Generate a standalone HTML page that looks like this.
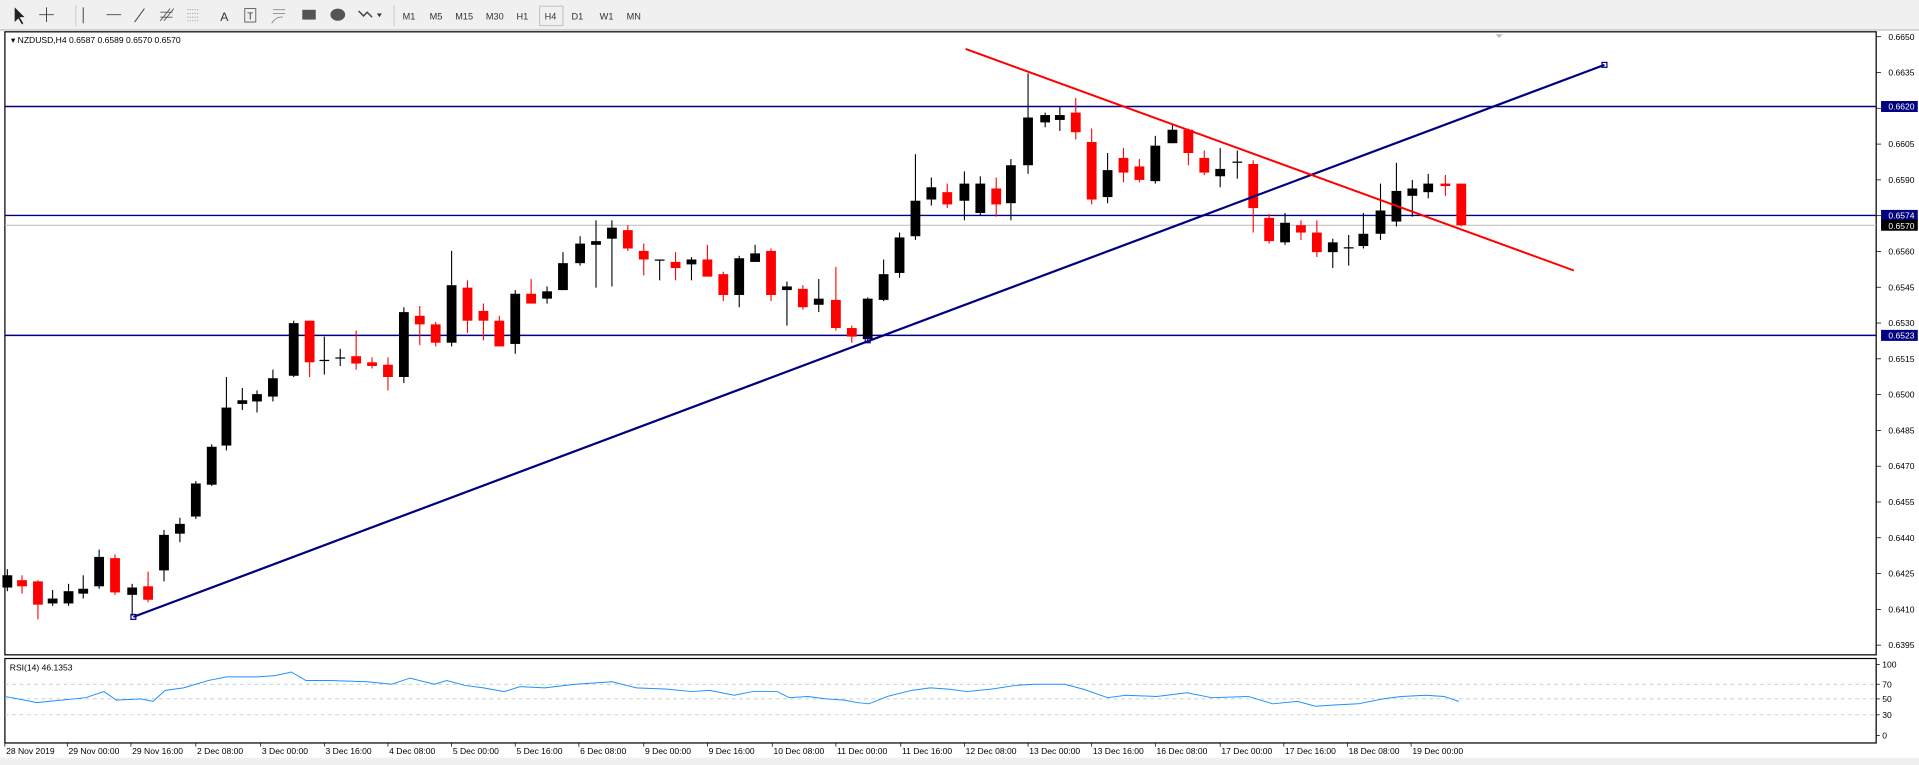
<!DOCTYPE html>
<html><head><meta charset="utf-8"><style>
html,body{margin:0;padding:0;background:#fff;width:1919px;height:765px;overflow:hidden}
svg{display:block}
text{font-family:"Liberation Sans",sans-serif}
</style></head><body>
<svg id="s" width="1919" height="765" viewBox="0 0 1568 625" preserveAspectRatio="none" xmlns="http://www.w3.org/2000/svg">
<rect x="0" y="0" width="1568" height="625" fill="#fff"/>
<rect x="0" y="0" width="1568" height="25" fill="#f0f0f0"/>
<line x1="0" y1="24.5" x2="1568" y2="24.5" stroke="#a0a0a0" stroke-width="0.6"/>
<g font-size="7.5" fill="#333">
<text x="329" y="16">M1</text><text x="351" y="16">M5</text><text x="372" y="16">M15</text><text x="397" y="16">M30</text><text x="422" y="16">H1</text><text x="445" y="16">H4</text><text x="467" y="16">D1</text><text x="490" y="16">W1</text><text x="512" y="16">MN</text>
<text x="180" y="17" font-size="10">A</text>
</g>
<rect x="441" y="5" width="19" height="16" fill="none" stroke="#b0b0b0" stroke-width="0.6"/>
<line x1="322" y1="4" x2="322" y2="21" stroke="#bbb" stroke-width="0.6"/>
<line x1="62" y1="4" x2="62" y2="21" stroke="#bbb" stroke-width="0.6"/>
<path d="M12 6 L12 18 L15 15 L18 20 L19 19 L16 14 L20 14 Z" fill="#222"/>
<path d="M38 6v12M32 12h12" stroke="#444" stroke-width="0.8"/>
<path d="M68 6v13M87 12h12M110 18l8-11" stroke="#444" stroke-width="0.8"/>
<path d="M131 17l8-10M134 17l8-10M131 10h10M131 14h10" stroke="#555" stroke-width="0.7"/>
<path d="M153 8h10M153 11h10M153 14h10M153 17h10" stroke="#888" stroke-width="0.6" stroke-dasharray="1,1"/>
<rect x="200" y="7" width="9" height="11" fill="none" stroke="#555" stroke-width="0.7"/><text x="202" y="16" font-size="8" fill="#333">T</text>
<path d="M223 8h10M223 11h10M222 19q4-6 9-5" stroke="#777" stroke-width="0.6" fill="none"/>
<rect x="247" y="8" width="11" height="8" fill="#555"/>
<ellipse cx="276" cy="12" rx="6" ry="5" fill="#555"/>
<path d="M293 9l4 4l3-3l4 4" stroke="#444" stroke-width="1.2" fill="none"/><path d="M308 11l4 0l-2 3z" fill="#333"/>
<rect x="4" y="26" width="1529" height="509" fill="#fff" stroke="#000" stroke-width="1"/>
<rect x="4" y="538" width="1529" height="69" fill="#fff" stroke="#000" stroke-width="1"/>
<rect x="0" y="619" width="1568" height="6" fill="#f0f0f0"/>
<text x="9" y="35" font-size="7" fill="#000">▾ NZDUSD,H4  0.6587 0.6589 0.6570 0.6570</text>
<path d="M1222 28 l6 0 l-3 3z" fill="#bbb"/>
<g id="g"></g>
</svg>
<script>
var g=document.getElementById('g'),h='';
function Y(p){return 30+(0.6650-p)/0.0015*29.24;}
for(var i=0;i<=17;i++){var p=0.6650-i*0.0015,y=Y(p);h+='<line x1="1533" y1="'+y+'" x2="1537" y2="'+y+'" stroke="#000" stroke-width="0.6"/><text x="1543" y="'+(y+2.5)+'" font-size="7" fill="#000">'+p.toFixed(4)+'</text>';}
h+='<line x1="4" y1="184" x2="1533" y2="184" stroke="#bbb" stroke-width="0.8"/>';
[[87,'0.6620'],[176,'0.6574'],[274,'0.6523']].forEach(function(a){h+='<line x1="4" y1="'+a[0]+'" x2="1533" y2="'+a[0]+'" stroke="#000080" stroke-width="1.2"/><rect x="1537" y="'+(a[0]-4.5)+'" width="30" height="9" fill="#000080"/><text x="1543" y="'+(a[0]+2.5)+'" font-size="7" fill="#fff">'+a[1]+'</text>';});
h+='<rect x="1537" y="179.5" width="30" height="9" fill="#000"/><text x="1543" y="187" font-size="7" fill="#fff">0.6570</text>';
var C=[[6,'b',470,480,465,483],[18,'r',474,479,470,485],[31,'r',475,494,474,506],[43,'b',489,493,482,495],[56,'b',483,493,477,495],[68,'b',481,485,470,489],[81,'b',455,479,449,481],[94,'r',456,484,453,486],[108,'b',480,486,477,503],[121,'r',479,490,467,492],[134,'b',437,466,433,475],[147,'b',428,436,423,443],[160,'b',395,422,393,424],[173,'b',365,396,363,397],[185,'b',333,364,308,368],[198,'b',327,330,317,335],[210,'b',322,328,319,337],[223,'b',309,324,302,328],[240,'b',264,307,262,308],[253,'r',262,296,262,308],[265,'b',294,295,275,306],[278,'b',292,293,285,299],[291,'r',291,297,270,302],[304,'r',296,299,292,301],[317,'r',298,308,292,319],[330,'b',255,308,251,313],[343,'r',258,265,250,282],[356,'r',265,280,263,283],[369,'b',233,280,205,283],[382,'r',235,262,229,272],[395,'r',254,262,248,278],[408,'r',262,283,258,283],[421,'b',240,281,237,289],[434,'r',240,248,228,248],[447,'b',238,244,234,248],[460,'b',215,237,206,237],[474,'b',199,215,193,217],[487,'b',197,200,180,235],[500,'b',186,195,180,234],[513,'r',188,203,184,205],[526,'r',205,212,199,225],[539,'b',212,213,212,229],[552,'r',214,219,206,229],[565,'b',212,216,210,229],[578,'r',212,226,200,226],[591,'r',224,241,222,246],[604,'b',211,241,209,251],[617,'b',207,214,200,214],[630,'r',205,241,203,246],[643,'b',234,237,230,266],[656,'r',236,251,233,253],[669,'b',244,249,228,255],[683,'r',245,268,218,270],[696,'r',268,275,266,280],[709,'b',244,277,243,280],[722,'b',224,245,212,246],[735,'b',194,223,190,227],[748,'b',164,193,126,196],[761,'b',153,163,145,168],[774,'r',157,167,150,170],[788,'b',150,164,140,180],[801,'b',150,174,144,176],[814,'r',154,167,145,177],[826,'b',135,166,130,180],[840,'b',96,135,60,142],[854,'b',94,100,92,104],[866,'b',94,98,87,107],[879,'r',92,108,80,114],[892,'r',116,163,105,167],[905,'b',139,161,125,166],[918,'r',129,141,121,149],[931,'r',136,147,130,149],[944,'b',119,148,111,150],[958,'b',106,117,102,117],[971,'r',106,125,105,135],[984,'r',129,141,123,143],[997,'b',138,144,121,153],[1011,'b',132,133,123,146],[1024,'r',134,170,131,190],[1037,'r',178,197,175,199],[1050,'b',182,198,174,200],[1063,'r',184,190,180,196],[1076,'r',190,206,180,210],[1089,'b',198,206,195,219],[1102,'b',202,203,192,217],[1114,'b',191,201,174,203],[1128,'b',172,191,150,196],[1141,'b',156,181,133,185],[1154,'b',154,160,147,177],[1167,'b',150,157,142,162],[1181,'r',150,152,143,160],[1194,'r',150,184,150,185]];
C.forEach(function(c){var col=c[1]=='b'?'#000':'#f00';h+='<line x1="'+c[0]+'" y1="'+c[4]+'" x2="'+c[0]+'" y2="'+c[5]+'" stroke="'+col+'" stroke-width="0.9"/>';var bh=Math.max(c[3]-c[2],1);h+='<rect x="'+(c[0]-4)+'" y="'+c[2]+'" width="8" height="'+bh+'" fill="'+col+'"/>';});
h+='<line x1="109" y1="504" x2="1311" y2="53" stroke="#000080" stroke-width="1.8"/><rect x="107" y="502" width="4" height="4" fill="none" stroke="#000080"/><rect x="1309" y="51" width="4" height="4" fill="none" stroke="#000080"/><rect x="707" y="276" width="4" height="4" fill="none" stroke="#000080"/>';
h+='<line x1="789" y1="40" x2="1286" y2="221" stroke="#f00" stroke-width="1.6"/>';
[559,571,584].forEach(function(y){h+='<line x1="4" y1="'+y+'" x2="1533" y2="'+y+'" stroke="#bbb" stroke-width="0.6" stroke-dasharray="3,3"/>';});
[[543,'100'],[559,'70'],[571,'50'],[584,'30'],[601,'0']].forEach(function(a){h+='<line x1="1533" y1="'+a[0]+'" x2="1536" y2="'+a[0]+'" stroke="#000" stroke-width="0.6"/><text x="1538" y="'+(a[0]+2.5)+'" font-size="7" fill="#000">'+a[1]+'</text>';});
h+='<text x="8" y="548" font-size="7" fill="#000">RSI(14) 46.1353</text>';
var R=[4,569,20,572,30,574,50,572,70,570,85,565,95,572,115,571,125,573,135,564,150,562,170,556,185,553,210,553,225,552,238,549,250,556,270,556,300,557,320,559,335,554,355,559,365,556,380,560,395,562,412,565,425,561,445,562,470,559,485,558,500,557,520,562,545,563,565,565,580,564,600,568,615,565,635,565,645,570,660,569,675,571,690,572,700,574,710,575,725,569,745,564,760,562,775,563,790,565,810,563,830,560,845,559,870,559,885,563,905,570,920,568,945,569,970,566,990,570,1020,569,1040,575,1060,573,1075,577,1090,576,1110,575,1130,571,1145,569,1165,568,1180,569,1192,573];
var pts='';for(i=0;i<R.length;i+=2)pts+=R[i]+','+R[i+1]+' ';
h+='<polyline points="'+pts+'" fill="none" stroke="#1e90ff" stroke-width="0.8"/>';
var T=[[4,'28 Nov 2019'],[55,'29 Nov 00:00'],[107,'29 Nov 16:00'],[160,'2 Dec 08:00'],[213,'3 Dec 00:00'],[265,'3 Dec 16:00'],[317,'4 Dec 08:00'],[369,'5 Dec 00:00'],[421,'5 Dec 16:00'],[473,'6 Dec 08:00'],[526,'9 Dec 00:00'],[578,'9 Dec 16:00'],[631,'10 Dec 08:00'],[683,'11 Dec 00:00'],[736,'11 Dec 16:00'],[788,'12 Dec 08:00'],[840,'13 Dec 00:00'],[892,'13 Dec 16:00'],[944,'16 Dec 08:00'],[997,'17 Dec 00:00'],[1049,'17 Dec 16:00'],[1101,'18 Dec 08:00'],[1153,'19 Dec 00:00']];
T.forEach(function(t){h+='<line x1="'+t[0]+'" y1="607" x2="'+t[0]+'" y2="610" stroke="#000" stroke-width="0.6"/><text x="'+(t[0]+1)+'" y="616" font-size="7" fill="#000">'+t[1]+'</text>';});
g.innerHTML=h;
</script>
</body></html>
